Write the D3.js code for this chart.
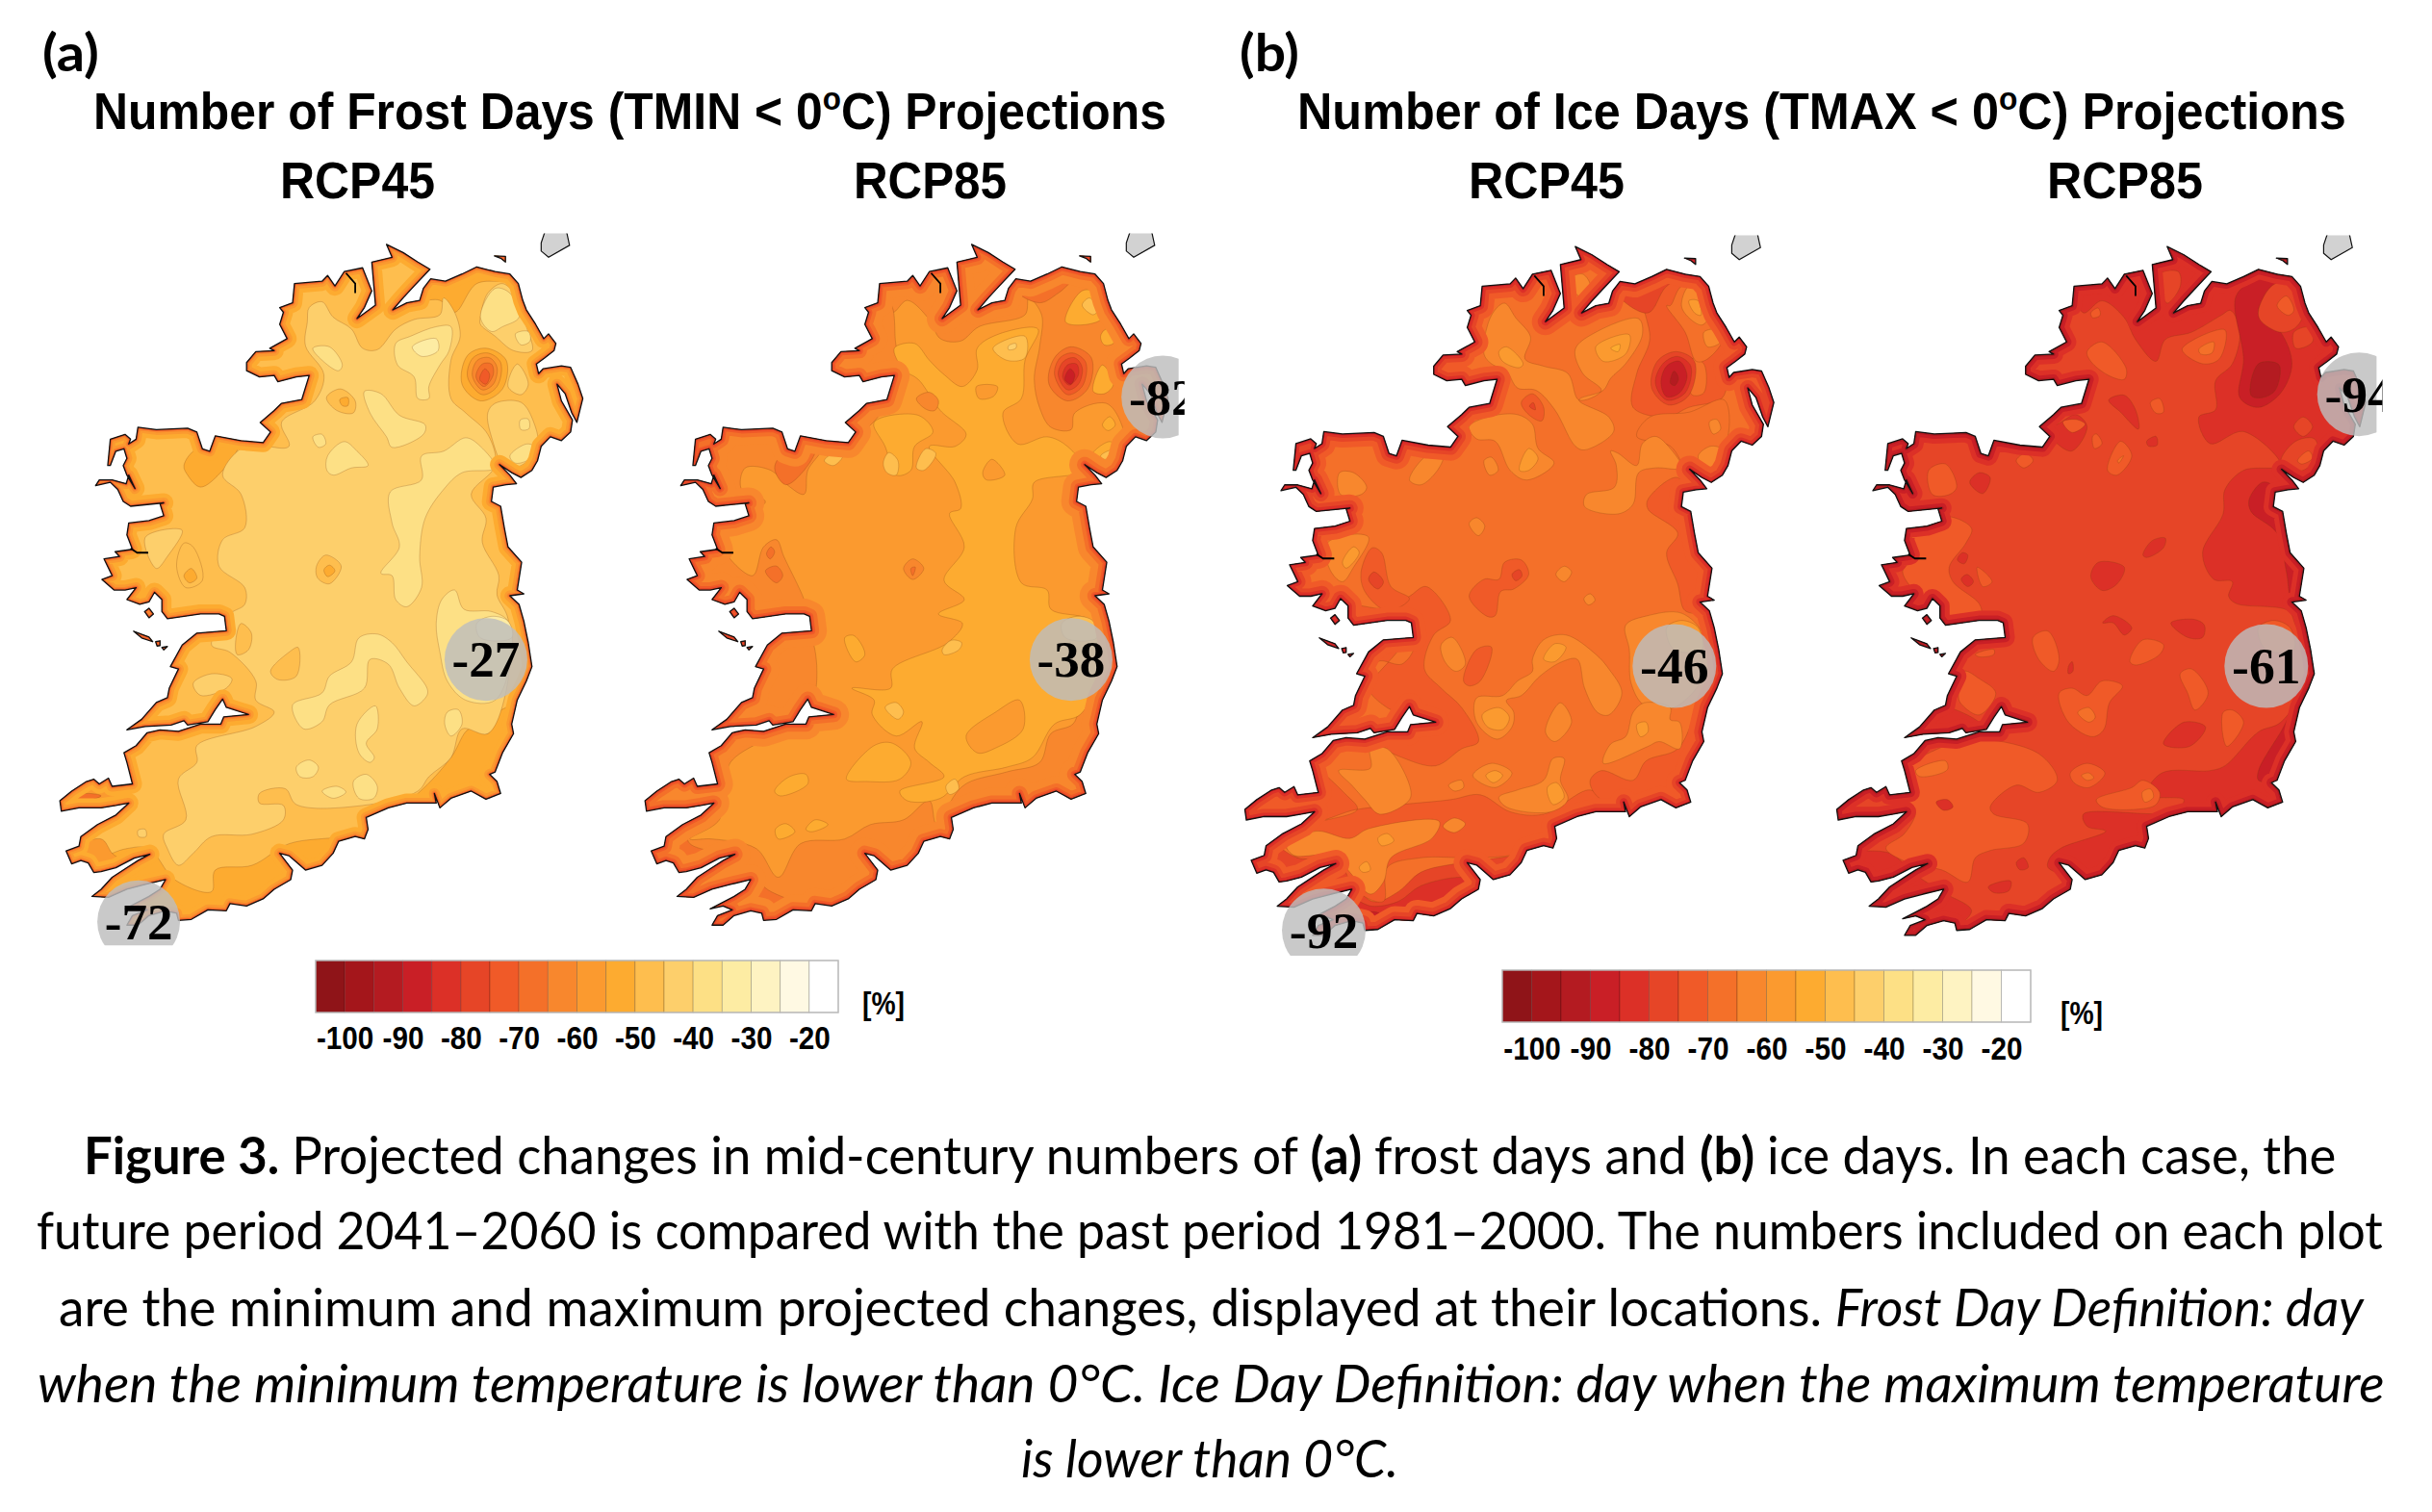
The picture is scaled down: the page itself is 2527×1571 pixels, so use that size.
<!DOCTYPE html>
<html><head><meta charset="utf-8"><title>Frost and ice day projections</title>
<script src="https://cdnjs.cloudflare.com/ajax/libs/d3/7.8.5/d3.min.js"></script>
<style>html,body{margin:0;padding:0;background:#fff}svg{display:block}</style></head>
<body><svg id="c" width="2527" height="1571" viewBox="0 0 2527 1571"></svg>
<script>
// ---- colour scale ----
const barColors=["#8f1418","#a4161b","#b41b21","#c91f26","#dc3027","#e64527","#f05a28","#f47029","#f8872d","#fb9a2f","#fdab30","#febe4e","#fdcf6b","#fde085","#fdeca3","#fef3c2","#fff9e3","#ffffff"];
const barThresholds=[-100,-95,-90,-85,-80,-75,-70,-65,-60,-55,-50,-45,-40,-35,-30,-25,-20];
const tickValues=[-100,-90,-80,-70,-60,-50,-40,-30,-20];
// ---- coastline, in map units ----
const coast=[945,48,990,65,1030,85,1063,100,1020,135,990,160,962,185,1000,170,1035,165,1045,140,1065,120,1105,125,1150,110,1190,95,1240,105,1280,110,1303,130,1315,165,1325,185,1350,215,1372,245,1385,235,1405,255,1400,270,1375,285,1352,298,1358,318,1370,308,1420,302,1445,305,1465,340,1478,370,1462,420,1448,400,1430,360,1408,340,1420,375,1450,415,1445,440,1420,458,1390,450,1365,470,1355,500,1340,520,1310,535,1285,525,1252,508,1280,530,1298,548,1270,550,1235,555,1230,585,1255,595,1265,640,1275,680,1312,712,1300,770,1318,778,1280,782,1305,800,1318,835,1330,880,1340,930,1325,960,1300,1000,1285,1050,1290,1070,1260,1110,1240,1150,1225,1155,1245,1170,1255,1195,1215,1207,1175,1190,1120,1205,1090,1225,1075,1195,1080,1215,1050,1215,1000,1215,950,1225,890,1245,895,1270,885,1290,860,1285,815,1295,800,1320,770,1345,725,1355,695,1335,680,1325,655,1320,690,1355,685,1375,640,1395,610,1415,565,1430,520,1425,510,1440,460,1438,415,1458,380,1460,375,1445,345,1440,300,1450,270,1470,240,1470,255,1450,295,1438,270,1430,235,1436,300,1410,330,1395,345,1375,290,1385,240,1395,190,1412,145,1410,170,1395,200,1370,240,1350,270,1335,302,1322,260,1330,210,1350,170,1358,150,1360,135,1340,115,1335,90,1342,75,1315,110,1305,115,1285,160,1260,210,1240,245,1215,210,1220,170,1225,110,1225,62,1232,58,1210,90,1190,130,1170,150,1165,165,1175,190,1163,200,1180,255,1175,240,1130,232,1110,265,1095,295,1068,330,1062,380,1065,440,1050,495,1050,503,1035,570,1030,510,1015,500,998,480,1020,460,1045,405,1052,395,1043,360,1052,290,1055,240,1062,280,1040,320,1005,350,995,355,975,380,935,358,930,390,885,430,860,510,855,505,825,490,820,440,820,350,830,335,815,335,790,315,775,300,795,275,800,240,790,265,765,235,770,205,770,172,748,200,740,178,705,220,700,208,690,255,685,245,665,240,655,245,630,300,625,340,615,330,590,340,588,250,595,240,590,230,585,215,560,195,545,155,552,165,540,200,540,238,548,245,530,262,558,240,530,230,510,240,495,232,475,210,480,195,510,188,510,195,455,235,445,250,455,245,465,265,455,270,430,320,435,405,432,430,440,445,475,465,480,480,448,550,458,610,462,630,440,602,420,640,395,660,380,715,372,735,322,700,325,650,335,640,322,600,325,565,312,565,295,590,272,640,270,628,265,675,245,655,215,665,190,655,180,690,170,695,130,770,125,785,113,805,135,830,105,880,97,905,145,885,180,865,203,915,175,905,85,960,75];
const isletRathlin=[1238,72,1268,73,1268,85,1255,77];
const isletClare=[288,815,300,808,312,820,300,828];
const isletAran1=[258,856,300,868,310,878,280,870];
const isletAran2=[318,878,330,876,330,886,322,887];
const isletAran3=[335,890,350,888,340,895];
const scotland=[1378,15,1432,15,1442,50,1385,75,1365,62,1365,45];
const inletMulroy=[835,108,860,130,860,150];
const inletClew=[250,683,268,692,298,692];
// ---- contour regions per panel: [lower % bound of class, map outline] ----
const baseA45=-50, baseA85=-60, baseB45=-70, baseB85=-80;
const rimA45=[[10,-55],[5.5,-60],[3,-65],[1.5,-75]];
const rimA85=[[16,-65],[8,-70],[4,-75],[2,-80]];
const rimB45=[[14,-75],[8,-80],[4,-85],[1.5,-90]];
const rimB85=[[10,-85],[5,-90],[2,-95]];
const regionsA45=[
[-55,[150,1340,200,1320,240,1310,300,1310,370,1375,470,1400,480,1355,580,1345,680,1300,820,1285,890,1270,1030,1195,1120,1120,1170,1060,1220,1070,1240,1030,1300,1000,1340,930,1300,1100,1100,1300,700,1500,150,1500,100,1350]],
[-55,[395,510,430,475,540,470,500,520,440,555,405,530]],
[-55,[1040,160,1090,165,1130,190,1190,130,1290,120,1250,60,1040,60]],
[-60,[75,1320,170,1290,200,1320,230,1340,150,1370]],
[-60,[58,1200,150,1180,250,1180,240,1215,150,1225,50,1240]],
[-70,[58,1210,130,1195,170,1200,120,1215,60,1240]],
[-45,[735,180,770,168,800,200,850,225,880,265,920,268,970,225,1020,205,1090,195,1100,160,1130,190,1145,240,1120,290,1120,370,1160,400,1220,445,1240,510,1175,570,1215,620,1205,670,1250,740,1245,780,1275,830,1270,980,1220,1070,1150,1060,1120,1120,1060,1160,1030,1190,880,1220,700,1218,670,1185,600,1195,600,1215,665,1220,665,1250,580,1280,470,1285,420,1320,380,1345,350,1310,340,1280,400,1250,380,1165,430,1130,430,1095,590,1055,640,1025,590,1000,590,960,520,900,470,885,520,820,560,800,560,765,490,720,500,665,560,640,550,570,500,530,560,470,680,470,660,420,750,375,775,320,725,260,730,210]],
[-45,[1200,200,1220,150,1260,130,1300,160,1325,220,1340,270,1290,270,1240,240,1200,215]],
[-45,[1275,345,1300,298,1330,340,1310,362]],
[-45,[1220,400,1240,380,1310,378,1345,420,1355,470,1310,510,1265,510,1230,450]],
[-45,[290,660,390,645,350,700,320,725]],
[-45,[420,965,470,945,525,955,510,975,440,990]],
[-45,[270,1272,290,1270,292,1285,272,1285]],
[-50,[630,940,680,900,705,890,700,950,650,957]],
[-50,[535,880,550,840,578,860,570,895,540,905]],
[-40,[970,255,1010,240,1080,220,1120,220,1115,270,1090,300,1060,345,1060,370,1030,370,1020,325,975,300]],
[-40,[1200,200,1240,140,1280,150,1305,200,1260,220,1230,230]],
[-40,[1295,235,1330,230,1335,250,1310,258]],
[-40,[745,265,790,262,825,300,815,312,770,290]],
[-40,[885,355,930,360,980,405,1050,425,1045,445,960,472,945,450,900,400]],
[-40,[1040,490,1100,480,1160,452,1200,470,1240,515,1150,525,1100,560,1050,620,1035,700,1040,765,1000,805,970,790,960,740,930,735,980,680,960,630,955,565,1040,540]],
[-40,[785,490,830,460,865,480,895,510,850,515,800,530,783,520]],
[-40,[745,450,770,445,780,465,760,472]],
[-40,[1080,840,1095,790,1130,770,1155,810,1230,815,1275,835,1285,900,1240,1000,1160,1000,1110,960,1090,900]],
[-40,[1110,1025,1140,1020,1150,1050,1120,1075,1103,1050]],
[-40,[690,1010,770,985,790,950,850,920,870,870,920,862,960,880,1000,920,1055,975,1055,990,1020,1012,980,975,950,925,900,915,885,975,790,1010,770,1045,720,1060]],
[-40,[865,1050,915,1012,920,1060,890,1090,912,1120,900,1130,870,1110]],
[-40,[700,1140,735,1125,760,1140,745,1160,710,1160]],
[-40,[855,1170,890,1155,920,1180,910,1205,870,1205]],
[-40,[770,1190,810,1180,835,1192,800,1205]],
[-40,[1280,490,1325,465,1345,470,1335,495,1295,505]],
[-40,[1308,415,1330,413,1332,433,1310,435]],
[-35,[1015,262,1080,245,1085,270,1040,282]],
[-35,[1190,840,1230,825,1275,835,1285,870,1200,870]],
[-50,[782,368,820,350,860,375,855,400,810,395]],
[-55,[818,372,840,368,840,385,825,385]],
[-50,[755,720,780,697,822,720,790,757,758,745]],
[-55,[775,728,790,718,805,730,785,742]],
[-50,[375,720,395,672,420,680,445,750,400,765]],
[-55,[395,740,415,725,430,745,410,755]],
[-55,[1150,340,1165,280,1215,265,1270,290,1260,350,1200,375]],
[-60,[1165,325,1180,285,1220,275,1255,295,1245,345,1205,362]],
[-65,[1178,322,1192,290,1225,285,1245,305,1235,340,1205,352]],
[-70,[1188,325,1205,298,1230,298,1235,320,1210,345]],
[-75,[1198,330,1212,308,1225,320,1215,340]]
];
const regionsA85=[
[-65,[700,120,730,190,770,165,830,205,860,245,915,250,965,220,1090,195,1100,160,1135,195,1130,260,1115,330,1130,390,1160,430,1215,435,1225,400,1310,380,1350,420,1360,480,1300,530,1500,400,1500,0,700,0]],
[-65,[560,250,720,170,740,260,760,320,700,400,640,440,620,420,540,320]],
[-65,[190,430,420,430,470,450,540,470,500,520,490,570,440,548,400,520,330,515,320,560,385,585,340,610,290,640,270,680,350,740,380,680,415,665,435,700,490,790,500,820,300,830,170,750,150,530]],
[-65,[230,1110,300,1075,440,1060,290,1130,260,1250,180,1290,240,1290,360,1310,420,1370,480,1300,600,1290,670,1260,760,1250,830,1210,850,1260,900,1230,1100,1500,100,1500,60,1200,230,1150]],
[-65,[880,1245,920,1180,1040,1150,1130,1130,1160,1070,1220,1050,1250,1000,1320,1000,1300,1200,1000,1300]],
[-65,[400,890,500,860,510,1010,400,1050,300,1040,350,980]],
[-70,[60,1200,130,1180,200,1190,260,1180,240,1215,60,1240]],
[-70,[75,1315,160,1260,180,1300,300,1330,150,1370]],
[-70,[230,1470,300,1400,340,1370,400,1400,470,1420,520,1420,520,1460,230,1490]],
[-70,[410,515,440,480,520,475,490,520,440,550]],
[-70,[1060,140,1130,170,1180,150,1230,120,1290,115,1250,60,1060,70]],
[-55,[735,265,760,310,800,330,860,395,930,445,900,470,830,470,900,545,915,600,885,610,925,680,870,750,925,790,855,820,920,840,880,880,730,935,725,975,620,975,680,1000,675,1030,740,1075,810,1045,790,1100,830,1130,870,1160,750,1190,770,1210,860,1205,925,1160,1040,1140,1110,1120,1170,1050,1240,1030,1290,950,1290,860,1260,830,1160,810,1150,770,1080,755,1065,640,1110,580,1115,545,1250,520,1205,470,1150,450,1070,465,1030,400,1080,370,1090,290,1125,225,1020,235,960,265,960,310,920,345,870,320,830,290,790,255]],
[-60,[930,1075,1010,1025,1075,1000,1085,1060,1010,1100,960,1110]],
[-60,[958,345,1015,345,1005,365,965,370]],
[-60,[975,525,1000,497,1035,530,985,540]],
[-55,[680,420,800,405,840,440,790,470,780,520,740,530,710,470]],
[-55,[605,1165,680,1095,730,1090,780,1130,750,1165,660,1170]],
[-55,[410,1190,450,1160,495,1155,500,1175,425,1200]],
[-55,[412,1270,440,1258,465,1275,420,1290]],
[-55,[495,1270,520,1250,555,1260,510,1275]],
[-55,[600,870,625,865,655,905,630,920]],
[-50,[795,515,820,475,848,485,815,520]],
[-50,[545,500,570,485,595,490,570,510]],
[-50,[705,505,720,483,745,500,740,530,715,525]],
[-50,[710,1015,740,1005,760,1025,745,1040]],
[-50,[865,895,890,875,918,880,910,895,870,905]],
[-50,[875,1180,900,1165,910,1185,885,1197]],
[-50,[1003,265,1090,240,1090,285,1040,290]],
[-55,[1200,210,1245,145,1285,150,1302,200,1260,215]],
[-50,[1245,175,1265,160,1288,185,1275,195]],
[-55,[1295,240,1310,225,1335,235,1330,255,1305,258]],
[-55,[1275,355,1300,300,1330,340,1305,360]],
[-55,[1300,425,1320,408,1335,425,1315,437]],
[-55,[1270,490,1320,460,1345,480,1310,505]],
[-50,[1295,490,1325,478,1335,488,1305,497]],
[-45,[1045,260,1065,255,1065,265,1045,268]],
[-50,[1190,840,1230,825,1275,835,1285,870,1200,870]],
[-70,[1155,340,1170,285,1215,262,1270,285,1260,350,1205,375]],
[-75,[1170,320,1185,285,1220,275,1255,295,1245,345,1205,362]],
[-80,[1180,320,1195,292,1225,285,1245,305,1235,340,1205,352]],
[-85,[1192,325,1205,300,1230,298,1235,320,1210,342]],
[-90,[1198,330,1212,308,1225,320,1215,340]],
[-70,[385,730,415,720,432,740,415,755]],
[-70,[388,695,400,680,410,690,398,705]],
[-65,[760,725,785,705,815,725,785,748]],
[-70,[780,725,792,722,785,740]],
[-65,[795,370,830,357,855,375,845,395,820,392]]
];
const regionsB45=[
[-80,[200,1310,300,1315,400,1400,470,1380,530,1340,640,1320,800,1300,890,1260,895,1290,700,1500,100,1450,70,1320,120,1280]],
[-85,[340,1395,400,1410,470,1400,530,1368,640,1350,700,1360,680,1385,560,1430,400,1460,340,1440]],
[-90,[365,1425,420,1425,370,1455]],
[-75,[610,1190,690,1180,770,1215,860,1220,985,1170,1030,1200,890,1260,800,1300,680,1310,530,1310,440,1330,430,1400,360,1380,300,1310,200,1310,160,1270,240,1240,360,1210,330,1180,230,1120,240,1230,360,1210]],
[-75,[340,790,440,795,500,770,545,750,610,820,565,850,540,920,585,960,640,1000,685,1070,640,1085,570,1120,470,1100,400,1075,300,1075,240,1100,300,1060,500,1020,440,1000,390,960,415,905,480,910,510,875,420,865,380,900,350,990,300,1020,500,840,380,830]],
[-75,[370,720,400,670,425,680,450,750,500,775,440,800,380,760]],
[-80,[390,735,405,720,430,740,415,755]],
[-75,[660,770,700,735,740,735,755,700,800,695,820,725,780,755,745,760,730,810,710,812]],
[-80,[775,725,795,715,802,728,785,738]],
[-75,[645,945,680,880,720,875,690,945,660,955]],
[-75,[1100,380,1110,310,1145,240,1130,150,1200,115,1300,130,1345,220,1365,260,1355,300,1340,360,1250,380,1190,400]],
[-80,[1050,140,1140,185,1190,130,1250,110,1300,120,1040,80]],
[-70,[1145,400,1250,390,1345,365,1350,450,1300,480,1250,510,1200,460,1110,440]],
[-70,[1255,280,1290,290,1290,350,1260,355,1250,340]],
[-70,[1200,170,1230,130,1290,130,1345,230,1300,280,1270,285,1240,225,1190,170]],
[-75,[985,1150,1015,1130,1100,1150,1135,1110,1220,1085,1280,1000,1300,1000,1290,1100,1230,1170,1100,1220,1000,1180]],
[-75,[1140,570,1220,525,1270,640,1310,720,1290,800,1240,800,1220,745,1190,680,1220,640,1140,590]],
[-75,[800,370,830,352,860,380,855,408,820,395]],
[-80,[822,378,832,370,838,385]],
[-65,[700,270,720,190,755,165,785,195,825,235,810,280,860,295,925,310,955,365,1015,345,965,310,945,260,1000,225,1115,197,1125,230,1080,290,1040,320,1020,345,955,365,1035,400,1048,430,970,468,945,460,890,385,840,345,790,340,760,305,720,290]],
[-65,[660,420,710,400,790,395,830,415,845,465,888,495,815,530,770,510,730,450,680,445]],
[-65,[1040,470,1060,475,1110,500,1125,455,1160,440,1200,465,1230,505,1160,505,1115,515,1100,580,1060,600,970,585,975,560,1050,545,1055,500]],
[-65,[500,530,550,478,590,480,575,510,530,540]],
[-65,[700,490,720,483,738,510,715,520]],
[-65,[312,515,350,515,385,545,370,560,315,560]],
[-65,[275,665,320,645,390,648,350,710,320,740,290,720]],
[-65,[585,870,615,855,650,910,625,925,595,905]],
[-65,[830,900,860,860,920,850,1000,890,1035,920,1070,970,1035,1015,1005,1010,970,960,950,900,910,905,850,935,800,975,760,985,780,1010,775,1040,735,1065,680,1030,680,980,750,975,790,945,830,925]],
[-65,[865,1050,905,990,935,1030,890,1070]],
[-65,[1080,830,1140,810,1230,805,1290,850,1300,920,1210,1000,1130,995,1095,950,1090,880]],
[-65,[1100,1010,1130,990,1200,1000,1200,1025,1225,1030,1225,1085,1170,1070,1140,1080,1020,1115,1040,1075,1080,1060]],
[-65,[170,1285,250,1255,340,1270,390,1250,580,1235,560,1270,450,1310,430,1360,395,1385,340,1340,300,1305,190,1305]],
[-65,[310,1130,395,1125,395,1085,440,1085,500,1160,500,1190,420,1220,380,1190,345,1160]],
[-65,[590,1245,620,1228,650,1240,620,1258]],
[-65,[670,1140,720,1115,775,1135,730,1165]],
[-65,[740,1185,790,1170,860,1150,885,1105,915,1105,905,1150,925,1190,880,1215,760,1205]],
[-65,[605,1160,640,1150,645,1165,620,1172]],
[-65,[245,1195,265,1185,272,1200,255,1208]],
[-65,[1230,170,1250,130,1285,140,1305,190,1285,210,1250,195]],
[-65,[1290,225,1325,220,1335,245,1300,255]],
[-65,[1275,480,1310,460,1345,470,1320,505,1290,505]],
[-65,[1305,410,1325,405,1335,425,1315,435]],
[-65,[930,115,965,105,985,130,955,150]],
[-65,[660,620,680,608,702,625,685,645]],
[-65,[893,725,915,708,935,720,915,740]],
[-65,[968,775,985,765,998,778,980,788]],
[-60,[1000,255,1090,230,1080,270,1020,285]],
[-60,[740,265,760,255,805,290,795,298,750,285]],
[-60,[795,510,820,465,845,485,820,510]],
[-60,[320,700,350,668,365,680,330,712]],
[-60,[860,900,890,868,920,875,890,905]],
[-60,[695,1015,740,1000,768,1020,750,1045,710,1040]],
[-60,[705,1140,730,1130,750,1140,725,1155]],
[-60,[870,1165,895,1155,915,1185,885,1200]],
[-60,[415,1270,440,1260,458,1275,425,1285]],
[-60,[365,1330,385,1318,395,1335,375,1340]],
[-60,[1110,1035,1135,1030,1140,1050,1120,1060]],
[-60,[1250,160,1275,160,1282,190,1265,185]],
[-55,[1040,258,1065,250,1060,265]],
[-60,[1190,835,1230,820,1275,835,1285,880,1210,880]],
[-80,[1150,340,1165,285,1215,265,1265,285,1250,355,1195,375]],
[-85,[1160,330,1180,290,1220,275,1255,295,1240,350,1190,365]],
[-90,[1175,330,1190,295,1225,285,1245,315,1225,350,1190,358]],
[-95,[1200,330,1210,305,1222,320,1212,335]]
];
const regionsB85=[
[-85,[700,100,720,185,770,160,830,195,860,240,915,285,940,240,1010,225,1090,190,1115,180,1140,220,1120,290,1075,325,1075,385,1030,400,1060,455,1150,430,1250,500,1150,510,1100,550,1095,600,1040,680,1070,735,1120,740,1110,770,1130,785,1270,800,1290,830,1320,870,1330,930,1250,1030,1190,1050,1100,1120,1060,1130,930,1135,890,1180,990,1190,960,1215,720,1220,730,1245,780,1255,660,1290,630,1310,625,1330,680,1355,650,1400,520,1430,400,1450,1000,1500,1500,1200,1500,0]],
[-85,[650,415,700,395,730,420,690,470,650,455,620,420]],
[-85,[240,1000,360,1000,450,1040,300,1060,240,1062]],
[-85,[70,1310,200,1300,260,1340,340,1380,420,1420,300,1480,200,1450,110,1370]],
[-90,[1140,360,1150,280,1130,150,1190,115,1275,105,1220,150,1190,180,1250,225,1280,290,1250,350,1190,380]],
[-95,[1170,355,1190,290,1245,292,1235,345,1200,360]],
[-90,[1165,570,1200,535,1225,540,1260,640,1310,710,1300,770,1280,780,1265,720,1240,640,1170,595]],
[-90,[1190,1130,1250,1050,1290,1000,1290,1090,1240,1150,1190,1150]],
[-80,[1190,180,1225,130,1270,120,1310,185,1290,215,1250,225,1195,200]],
[-80,[1285,225,1330,215,1335,245,1290,258]],
[-80,[1285,420,1310,400,1335,420,1310,440]],
[-80,[1250,490,1290,450,1340,445,1350,480,1310,510,1265,510]],
[-80,[925,105,975,100,980,130,945,165]],
[-75,[1240,170,1265,150,1285,180,1270,190]],
[-75,[1295,490,1325,470,1335,485,1305,497]],
[-75,[730,265,770,245,835,300,830,322,790,315,740,285]],
[-75,[985,260,1100,220,1085,280,1040,290]],
[-70,[1030,260,1070,245,1065,268,1035,270]],
[-75,[740,185,760,175,765,190,745,195]],
[-75,[305,510,350,497,380,545,360,560,315,560]],
[-75,[250,700,265,640,350,605,420,630,405,660,360,710,370,740,440,785,445,805,360,810,280,770,235,720]],
[-75,[435,710,475,740,450,750]],
[-75,[540,490,565,475,585,490,560,505]],
[-75,[665,410,700,405,725,415,690,432]],
[-75,[785,510,820,450,850,480,810,520]],
[-70,[812,490,828,480,815,495]],
[-75,[745,440,755,435,770,455,750,465]],
[-75,[900,370,925,362,935,390,915,392]],
[-75,[585,855,625,842,655,900,640,925,600,900]],
[-75,[845,905,880,860,935,870,925,890,860,912]],
[-75,[980,930,1010,920,1055,970,1020,1005,1000,970]],
[-75,[655,970,690,960,730,975,770,945,825,955,790,990,775,1045,745,1060,680,1030]],
[-70,[705,1010,735,1000,752,1020,735,1030]],
[-75,[385,975,400,925,440,940,485,970,440,1015,390,990]],
[-75,[1095,1010,1120,1005,1150,1030,1105,1080]],
[-75,[430,890,480,880,480,890,440,895]],
[-75,[240,1130,330,1085,420,1065,600,1095,650,1150,600,1175,540,1160,470,1205,480,1220,570,1240,560,1280,470,1295,430,1310,410,1360,340,1335,250,1320,190,1290,240,1260,270,1215,250,1190]],
[-70,[270,1130,350,1110,355,1128,280,1142]],
[-75,[685,1135,730,1115,778,1135,735,1165,695,1155]],
[-70,[715,1140,735,1135,748,1145,730,1150]],
[-75,[755,1190,850,1165,880,1150,925,1175,915,1200,860,1210,770,1205]],
[-70,[878,1175,900,1168,908,1185,885,1195]],
[-75,[1190,835,1230,820,1275,835,1285,880,1210,880]],
[-85,[325,1195,355,1190,370,1205,345,1212]],
[-85,[540,1320,560,1310,572,1330,550,1335]],
[-85,[465,1370,525,1358,520,1378,480,1382]],
[-85,[740,730,760,700,830,710,810,745,770,758]],
[-85,[880,685,905,655,940,650,935,670,890,690]],
[-85,[382,695,395,680,410,685,400,703]],
[-85,[392,735,408,725,425,740,410,750]],
[-85,[955,825,1020,818,1045,830,1040,855,1000,855]],
[-85,[772,825,800,810,850,835,830,850,800,825]],
[-85,[935,1075,990,1030,1048,1040,1005,1080]],
[-85,[788,365,830,355,860,385,868,425,820,390]],
[-85,[890,450,915,440,918,458,895,460]],
[-85,[415,535,440,515,470,525,450,558]],
[-85,[680,915,690,905,692,925,680,930]]
];
// ---- labels and markers ----
const markerA45=[[1215,915,"-27"],[272,1463,"-72"]];
const markerA85=[[1215,915,"-38"],[1464,367,"-82"]];
const markerB45=[[1211,914,"-46"],[270,1460,"-92"]];
const markerB85=[[1211,914,"-61"],[1460,353,"-94"]];
const panelNames=["RCP45","RCP85","RCP45","RCP85"];
const captionLines=[
 [["b","Figure 3. "],["n","Projected changes in mid-century numbers of "],["b","(a) "],["n","frost days and "],["b","(b) "],["n","ice days. In each case, the"]],
 [["n","future period 2041–2060 is compared with the past period 1981–2000. The numbers included on each plot"]],
 [["n","are the minimum and maximum projected changes, displayed at their locations. "],["i","Frost Day Definition: day"]],
 [["i","when the minimum temperature is lower than 0°C. Ice Day Definition: day when the maximum temperature"]],
 [["i","is lower than 0°C."]]];

// ---- drawing ----
const svg=d3.select("#c");
const defs=svg.append("defs");
const color=d3.scaleThreshold().domain(barThresholds).range(barColors);
const pairs=a=>d3.range(0,a.length,2).map(i=>[a[i],a[i+1]]);
const panels=[
 {id:"a45",x0:40,y0:230,s:1,base:baseA45,rim:rimA45,regions:regionsA45,markers:markerA45},
 {id:"a85",x0:648,y0:230,s:1,base:baseA85,rim:rimA85,regions:regionsA85,markers:markerA85},
 {id:"b45",x0:1271,y0:232,s:607/600,base:baseB45,rim:rimB45,regions:regionsB45,markers:markerB45},
 {id:"b85",x0:1886,y0:232,s:607/600,base:baseB85,rim:rimB85,regions:regionsB85,markers:markerB85}];
panels.forEach(p=>{
 const x=d3.scaleLinear().domain([0,1568]).range([p.x0,p.x0+600*p.s]);
 const y=d3.scaleLinear().domain([0,1568]).range([p.y0,p.y0+780*p.s]);
 const line=d3.line().x(d=>x(d[0])).y(d=>y(d[1]));
 const ring=a=>line(pairs(a))+"Z";
 const land=[coast,isletRathlin,isletClare,isletAran1,isletAran2,isletAran3].map(ring).join("");
 const blob=d3.line().x(d=>x(d[0])).y(d=>y(d[1])).curve(d3.curveCatmullRomClosed.alpha(0.5));
 defs.append("clipPath").attr("id","land-"+p.id).append("path").attr("d",land);
 defs.append("clipPath").attr("id","frame-"+p.id).append("rect").attr("x",x(0)).attr("y",y(25)).attr("width",x(1523)-x(0)).attr("height",y(1512)-y(25));
 defs.append("clipPath").attr("id","disc-"+p.id).append("rect").attr("x",x(0)).attr("y",y(25)).attr("width",x(1507)-x(0)).attr("height",y(1512)-y(25));
 const g=svg.append("g").attr("clip-path",`url(#frame-${p.id})`);
 const f=g.append("g").attr("clip-path",`url(#land-${p.id})`);
 f.append("path").attr("d",land).attr("fill",color(p.base));
 f.selectAll("path.band").data(p.regions).join("path").attr("class","band")
  .attr("d",d=>blob(pairs(d[1]))).attr("fill",d=>color(d[0])).attr("stroke","#7a3c10").attr("stroke-opacity",.3).attr("stroke-width",.8);
 p.rim.forEach(r=>f.append("path").attr("d",land).attr("fill","none").attr("stroke",color(r[1])).attr("stroke-width",r[0]*2*p.s).attr("stroke-linejoin","round"));
 g.append("path").attr("d",ring(scotland)).attr("fill","#d2d2d2").attr("stroke","#111").attr("stroke-width",1.2);
 g.append("path").attr("d",land).attr("fill","none").attr("stroke","#111").attr("stroke-width",1.3).attr("stroke-linejoin","round");
 [inletMulroy,inletClew].forEach(a=>g.append("path").attr("d",line(pairs(a))).attr("fill","none").attr("stroke","#000").attr("stroke-width",1.8));
 svg.append("g").attr("clip-path",`url(#disc-${p.id})`).selectAll("circle").data(p.markers).join("circle")
  .attr("cx",d=>x(d[0])).attr("cy",d=>y(d[1])).attr("r",43*p.s).attr("fill","#bdbdbd").attr("fill-opacity",.82);
 svg.append("g").attr("clip-path",`url(#frame-${p.id})`).selectAll("text").data(p.markers).join("text")
  .attr("x",d=>x(d[0])).attr("y",d=>y(d[1])+18).attr("text-anchor","middle")
  .attr("font-family","'Liberation Serif',serif").attr("font-weight","700").attr("font-size",53*p.s).text(d=>d[2]);
});
// text fitted to a measured width
function fit(sel,x0,x1,yb){
 const w=sel.node().getComputedTextLength();
 sel.attr("x",0).attr("y",0).attr("text-anchor","start").attr("transform",`translate(${x0},${yb}) scale(${(x1-x0)/w},1)`);
}
function head(t,x0,x1,yb,size,fam){const s=svg.append("text").attr("font-family",fam||"'Liberation Sans',Arial,sans-serif").attr("font-weight","700").attr("font-size",size).text(t);fit(s,x0,x1,yb);return s;}
head("(a)",44,103,74,54,"Lato");
head("(b)",1288,1350,74,54,"Lato");
function title(pre,x0,x1){
 const s=svg.append("text").attr("font-family","'Liberation Sans',Arial,sans-serif").attr("font-weight","700").attr("font-size",54);
 s.append("tspan").text(pre+" < 0");
 s.append("tspan").attr("dy",-20).attr("font-size",34).text("o");
 s.append("tspan").attr("dy",20).text("C) Projections");
 fit(s,x0,x1,134);
}
title("Number of Frost Days (TMIN",97,1212);
title("Number of Ice Days (TMAX",1348,2438);
[[291,452],[887,1046],[1526,1688],[2127,2289]].forEach((e,i)=>head(panelNames[i],e[0],e[1],206,53));
// colour bars
[{x0:328,x1:871,y0:998,y1:1052,ly:1067,px:896,py:1054},{x0:1561,x1:2110,y0:1008,y1:1062,ly:1078,px:2141,py:1064}].forEach(b=>{
 const sc=d3.scaleLinear().domain([-105,-15]).range([b.x0,b.x1]);
 const g=svg.append("g");
 const lows=[-105].concat(barThresholds);
 g.selectAll("rect").data(lows).join("rect").attr("x",d=>sc(d)).attr("y",b.y0).attr("width",sc(-100)-sc(-105)).attr("height",b.y1-b.y0)
  .attr("fill",d=>color(d)).attr("stroke","#000").attr("stroke-opacity",.22).attr("stroke-width",.9);
 g.append("rect").attr("x",b.x0).attr("y",b.y0).attr("width",b.x1-b.x0).attr("height",b.y1-b.y0).attr("fill","none").attr("stroke","#bbb").attr("stroke-width",1.4);
 const ax=svg.append("g").attr("transform",`translate(0,${b.ly})`).call(d3.axisBottom(sc).tickValues(tickValues).tickSize(0).tickPadding(0).tickFormat(d=>String(d)));
 ax.select(".domain").remove();
 ax.selectAll("text").attr("font-family","'Liberation Sans',Arial,sans-serif").attr("font-weight","700").attr("font-size",33).attr("fill","#000").attr("dy",".71em").attr("transform","scale(.9,1)");
 const pct=svg.append("text").attr("font-family","'Liberation Sans',Arial,sans-serif").attr("font-weight","700").attr("font-size",34).text("[%]");
 fit(pct,b.px,b.px+44,b.py);
});
// caption
const capX=[[87,2428],[38,2476],[61,2456],[39,2478],[1061,1453]];
const capY=[1220,1298,1378,1457,1535];
captionLines.forEach((runs,i)=>{
 const s=svg.append("text").attr("font-family","Lato,'Carlito',sans-serif").attr("font-size",54).attr("fill","#000");
 runs.forEach(r=>s.append("tspan").attr("font-weight",r[0]==="b"?700:400).attr("font-style",r[0]==="i"?"italic":"normal").style("white-space","pre").text(r[1]));
 fit(s,capX[i][0],capX[i][1],capY[i]);
});
</script></body></html>
